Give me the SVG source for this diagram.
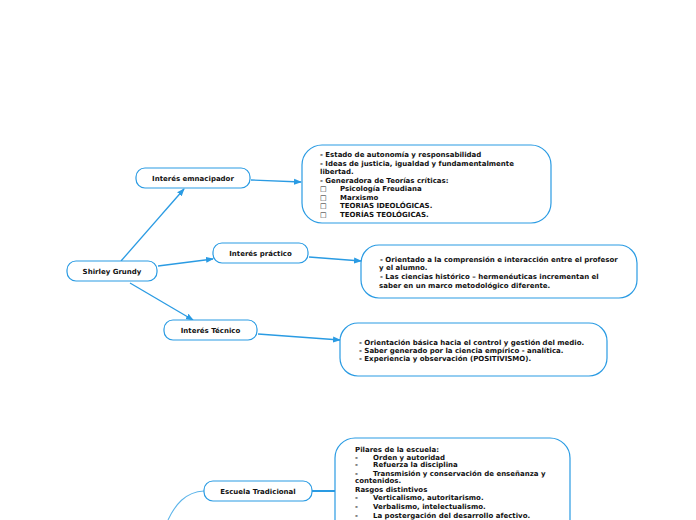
<svg xmlns="http://www.w3.org/2000/svg" width="696" height="520" viewBox="0 0 696 520">
<style>
text{font-family:"DejaVu Sans",Verdana,sans-serif;font-weight:bold;fill:#111;}
.n{font-size:7px;text-anchor:middle;}
.t{font-size:7px;}
.box{fill:#fff;stroke:#2a9be3;stroke-width:1.2;}
.c{fill:none;stroke:#2a9be3;stroke-width:1.3;}
</style>
<defs>
<marker id="ar" markerWidth="8" markerHeight="8" refX="7" refY="4" orient="auto" markerUnits="userSpaceOnUse">
<path d="M0,1 L8,4 L0,7 Z" fill="#2a9be3"/>
</marker>
</defs>
<rect width="696" height="520" fill="#fff"/>
<g id="connectors">
<line class="c" x1="121" y1="261" x2="184" y2="189" marker-end="url(#ar)"/>
<line class="c" x1="158" y1="266" x2="213" y2="259" marker-end="url(#ar)"/>
<line class="c" x1="130" y1="283" x2="193" y2="320" marker-end="url(#ar)"/>
<line class="c" x1="251" y1="180" x2="301" y2="182" marker-end="url(#ar)"/>
<line class="c" x1="309" y1="257" x2="361" y2="261" marker-end="url(#ar)"/>
<line class="c" x1="258" y1="334" x2="340" y2="340" marker-end="url(#ar)"/>
<line class="c" x1="312" y1="491" x2="336" y2="491" style="stroke-width:2"/>
<path class="c" d="M204,491 C185,492 175,505 168,520" style="stroke:#5db5ea;stroke-width:1.1"/>
</g>
<g id="shirley">
<rect class="box" x="67" y="261" width="90" height="20" rx="9"/>
<text class="n" x="112" y="273.5">Shirley Grundy</text>
</g>
<g id="emancipador">
<rect class="box" x="136" y="168" width="114" height="20" rx="9"/>
<text class="n" x="193" y="180.5">Interés emnacipador</text>
</g>
<g id="practico">
<rect class="box" x="213" y="243" width="95" height="20" rx="9"/>
<text class="n" x="260.5" y="255.5">Interés práctico</text>
</g>
<g id="tecnico">
<rect class="box" x="164" y="320" width="93" height="20" rx="9"/>
<text class="n" x="210.5" y="332.5">Interés Técnico</text>
</g>
<g id="box1">
<rect class="box" x="302" y="145" width="249" height="78" rx="20"/>
<text class="t" x="320" y="157">- Estado de autonomía y responsabilidad</text>
<text class="t" x="320" y="166">- Ideas de justicia, igualdad y fundamentalmente</text>
<text class="t" x="320" y="174">libertad.</text>
<text class="t" x="320" y="182.5">- Generadora de Teorías críticas:</text>
<text class="t" x="320" y="191">□</text><text class="t" x="340" y="191">Psicología Freudiana</text>
<text class="t" x="320" y="199.5">□</text><text class="t" x="340" y="199.5">Marxismo</text>
<text class="t" x="320" y="208">□</text><text class="t" x="340" y="208">TEORIAS IDEOLÓGICAS.</text>
<text class="t" x="320" y="216.5">□</text><text class="t" x="340" y="216.5">TEORÍAS TEOLÓGICAS.</text>
</g>
<g id="box2">
<rect class="box" x="361" y="245" width="276" height="53" rx="18"/>
<text class="t" x="380" y="261.5">- Orientado a la comprensión e interacción entre el profesor</text>
<text class="t" x="379" y="270">y el alumno.</text>
<text class="t" x="380" y="279">- Las ciencias histórico – hermenéuticas incrementan el</text>
<text class="t" x="379" y="288">saber en un marco metodológico diferente.</text>
</g>
<g id="box3">
<rect class="box" x="340" y="323" width="267" height="53" rx="18"/>
<text class="t" x="359" y="345">- Orientación básica hacia el control y gestión del medio.</text>
<text class="t" x="359" y="353">- Saber generado por la ciencia empírico - analítica.</text>
<text class="t" x="359" y="361">- Experiencia y observación (POSITIVISMO).</text>
</g>
<g id="escuela">
<rect class="box" x="204" y="481" width="108" height="20" rx="9"/>
<text class="n" x="258" y="493.5">Escuela Tradicional</text>
</g>
<g id="box4">
<rect class="box" x="335" y="438" width="235" height="110" rx="20"/>
<text class="t" x="355" y="451.5">Pilares de la escuela:</text>
<text class="t" x="355" y="459.5">-</text><text class="t" x="373" y="459.5">Orden y autoridad</text>
<text class="t" x="355" y="467">-</text><text class="t" x="373" y="467">Refuerza la disciplina</text>
<text class="t" x="355" y="475.5">-</text><text class="t" x="373" y="475.5">Transmisión y conservación de enseñanza y</text>
<text class="t" x="355" y="483">contenidos.</text>
<text class="t" x="355" y="491.5">Rasgos distintivos</text>
<text class="t" x="355" y="500">-</text><text class="t" x="373" y="500">Verticalismo, autoritarismo.</text>
<text class="t" x="355" y="509">-</text><text class="t" x="373" y="509">Verbalismo, intelectualismo.</text>
<text class="t" x="355" y="518">-</text><text class="t" x="373" y="518">La postergación del desarrollo afectivo.</text>
</g>
</svg>
